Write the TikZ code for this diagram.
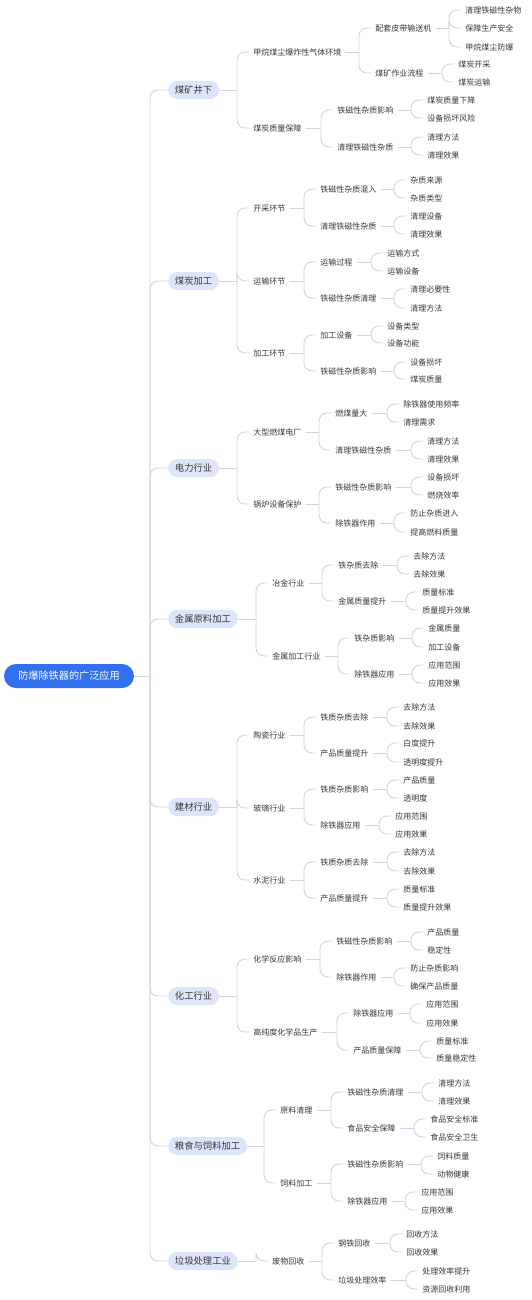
\documentclass[tikz,border=0pt]{standalone}
\usepackage{fontspec}
\usepackage{xcolor}
\usepackage{tikz}
\usetikzlibrary{calc}
\newfontfamily\cjk{Noto Sans CJK SC}
\definecolor{rootblue}{HTML}{3170EE}
\definecolor{sectorblue}{HTML}{DDE5FA}
\definecolor{linkgray}{HTML}{CFD6E3}
\definecolor{textgray}{HTML}{383838}
\tikzset{rootbox/.style={fill=#1,text=white,rounded corners=9pt,minimum width=97.5pt,minimum height=18pt,inner sep=0pt,font=\cjk\fontsize{7.6}{9}\selectfont},rootbox/.default=rootblue}
\tikzset{sector/.style={fill=#1,text=textgray,anchor=west,rounded corners=6.5pt,minimum height=13.5pt,inner xsep=5pt,inner ysep=0pt,font=\cjk\fontsize{7}{8}\selectfont},sector/.default=sectorblue}
\tikzset{topic/.style={text=#1,anchor=west,xshift=-3pt,inner xsep=3pt,inner ysep=1pt,font=\cjk\fontsize{6}{7}\selectfont},topic/.default=textgray}
\tikzset{link/.style={draw=#1,line width=0.7pt},link/.default=linkgray}
% elbow from parent #2 to child #3, the bend sits #1 before the child
\newcommand{\branchlink}[3][9pt]{%
	\draw [link] let \p1=(#2.east), \p2=(#3.west) in (\p1) -- (\x2-#1,\y1);
	\draw [link,rounded corners=6pt] let \p1=(#2.east), \p2=(#3.west) in (\x2-#1,\y1) |- (\p2);}
\newcommand{\addsector}[3]{\node [sector] (#1) at (168,#2) {#3}; \branchlink[13.5pt]{root}{#1}}
\newcommand{\addtopic}[5]{\node [topic] (#1) at (#3,#4) {#5}; \branchlink{#2}{#1}}

\begin{document}
\begin{tikzpicture}[x=0.75pt,y=-0.75pt]

	\path [fill=white,use as bounding box] (0,0) rectangle (532,1300);

	% O tema central
	\node [rootbox] (root) at (69,676) {防爆除铁器的广泛应用};

	% 煤矿井下
	\addsector{mine}{90}{煤矿井下}
	\addtopic{mine1}{mine}{253}{52}{甲烷煤尘爆炸性气体环境}
	\addtopic{mine11}{mine1}{375}{28}{配套皮带输送机}
	\addtopic{mine111}{mine11}{465}{10}{清理铁磁性杂物}
	\addtopic{mine112}{mine11}{465}{28}{保障生产安全}
	\addtopic{mine113}{mine11}{465}{47}{甲烷煤尘防爆}
	\addtopic{mine12}{mine1}{375}{73}{煤矿作业流程}
	\addtopic{mine121}{mine12}{458}{64}{煤炭开采}
	\addtopic{mine122}{mine12}{458}{82}{煤炭运输}
	\addtopic{mine2}{mine}{253}{128}{煤炭质量保障}
	\addtopic{mine21}{mine2}{337}{110}{铁磁性杂质影响}
	\addtopic{mine211}{mine21}{427}{100}{煤炭质量下降}
	\addtopic{mine212}{mine21}{427}{118}{设备损坏风险}
	\addtopic{mine22}{mine2}{337}{147}{清理铁磁性杂质}
	\addtopic{mine221}{mine22}{427}{137}{清理方法}
	\addtopic{mine222}{mine22}{427}{155}{清理效果}

	% 煤炭加工
	\addsector{coal}{281}{煤炭加工}
	\addtopic{coal1}{coal}{253}{208}{开采环节}
	\addtopic{coal11}{coal1}{320}{189}{铁磁性杂质混入}
	\addtopic{coal111}{coal11}{410}{180}{杂质来源}
	\addtopic{coal112}{coal11}{410}{198}{杂质类型}
	\addtopic{coal12}{coal1}{320}{226}{清理铁磁性杂质}
	\addtopic{coal121}{coal12}{410}{216}{清理设备}
	\addtopic{coal122}{coal12}{410}{234}{清理效果}
	\addtopic{coal2}{coal}{253}{281}{运输环节}
	\addtopic{coal21}{coal2}{320}{262}{运输过程}
	\addtopic{coal211}{coal21}{387}{253}{运输方式}
	\addtopic{coal212}{coal21}{387}{271}{运输设备}
	\addtopic{coal22}{coal2}{320}{298}{铁磁性杂质清理}
	\addtopic{coal221}{coal22}{410}{289}{清理必要性}
	\addtopic{coal222}{coal22}{410}{308}{清理方法}
	\addtopic{coal3}{coal}{253}{353}{加工环节}
	\addtopic{coal31}{coal3}{320}{335}{加工设备}
	\addtopic{coal311}{coal31}{387}{326}{设备类型}
	\addtopic{coal312}{coal31}{387}{343}{设备功能}
	\addtopic{coal32}{coal3}{320}{371}{铁磁性杂质影响}
	\addtopic{coal321}{coal32}{410}{362}{设备损坏}
	\addtopic{coal322}{coal32}{410}{379}{煤炭质量}

	% 电力行业
	\addsector{power}{468}{电力行业}
	\addtopic{power1}{power}{253}{432}{大型燃煤电厂}
	\addtopic{power11}{power1}{335}{413}{燃煤量大}
	\addtopic{power111}{power11}{403}{404}{除铁器使用频率}
	\addtopic{power112}{power11}{403}{422}{清理需求}
	\addtopic{power12}{power1}{335}{450}{清理铁磁性杂质}
	\addtopic{power121}{power12}{427}{441}{清理方法}
	\addtopic{power122}{power12}{427}{459}{清理效果}
	\addtopic{power2}{power}{253}{504}{锅炉设备保护}
	\addtopic{power21}{power2}{335}{487}{铁磁性杂质影响}
	\addtopic{power211}{power21}{427}{477}{设备损坏}
	\addtopic{power212}{power21}{427}{495}{燃烧效率}
	\addtopic{power22}{power2}{335}{523}{除铁器作用}
	\addtopic{power221}{power22}{410}{513}{防止杂质进入}
	\addtopic{power222}{power22}{410}{532}{提高燃料质量}

	% 金属原料加工
	\addsector{metal}{619}{金属原料加工}
	\addtopic{metal1}{metal}{272}{583}{冶金行业}
	\addtopic{metal11}{metal1}{338}{565}{铁杂质去除}
	\addtopic{metal111}{metal11}{413}{556}{去除方法}
	\addtopic{metal112}{metal11}{413}{574}{去除效果}
	\addtopic{metal12}{metal1}{338}{601}{金属质量提升}
	\addtopic{metal121}{metal12}{422}{592}{质量标准}
	\addtopic{metal122}{metal12}{422}{610}{质量提升效果}
	\addtopic{metal2}{metal}{272}{656}{金属加工行业}
	\addtopic{metal21}{metal2}{354}{638}{铁杂质影响}
	\addtopic{metal211}{metal21}{428}{628}{金属质量}
	\addtopic{metal212}{metal21}{428}{647}{加工设备}
	\addtopic{metal22}{metal2}{354}{674}{除铁器应用}
	\addtopic{metal221}{metal22}{428}{665}{应用范围}
	\addtopic{metal222}{metal22}{428}{683}{应用效果}

	% 建材行业
	\addsector{build}{807}{建材行业}
	\addtopic{build1}{build}{253}{735}{陶瓷行业}
	\addtopic{build11}{build1}{320}{717}{铁质杂质去除}
	\addtopic{build111}{build11}{403}{707}{去除方法}
	\addtopic{build112}{build11}{403}{726}{去除效果}
	\addtopic{build12}{build1}{320}{753}{产品质量提升}
	\addtopic{build121}{build12}{403}{743}{白度提升}
	\addtopic{build122}{build12}{403}{762}{透明度提升}
	\addtopic{build2}{build}{253}{808}{玻璃行业}
	\addtopic{build21}{build2}{320}{789}{铁质杂质影响}
	\addtopic{build211}{build21}{403}{780}{产品质量}
	\addtopic{build212}{build21}{403}{798}{透明度}
	\addtopic{build22}{build2}{320}{825}{除铁器应用}
	\addtopic{build221}{build22}{395}{816}{应用范围}
	\addtopic{build222}{build22}{395}{834}{应用效果}
	\addtopic{build3}{build}{253}{880}{水泥行业}
	\addtopic{build31}{build3}{320}{862}{铁质杂质去除}
	\addtopic{build311}{build31}{403}{852}{去除方法}
	\addtopic{build312}{build31}{403}{871}{去除效果}
	\addtopic{build32}{build3}{320}{898}{产品质量提升}
	\addtopic{build321}{build32}{403}{889}{质量标准}
	\addtopic{build322}{build32}{403}{907}{质量提升效果}

	% 化工行业
	\addsector{chem}{996}{化工行业}
	\addtopic{chem1}{chem}{253}{959}{化学反应影响}
	\addtopic{chem11}{chem1}{336}{941}{铁磁性杂质影响}
	\addtopic{chem111}{chem11}{427}{932}{产品质量}
	\addtopic{chem112}{chem11}{427}{950}{稳定性}
	\addtopic{chem12}{chem1}{336}{977}{除铁器作用}
	\addtopic{chem121}{chem12}{410}{968}{防止杂质影响}
	\addtopic{chem122}{chem12}{410}{986}{确保产品质量}
	\addtopic{chem2}{chem}{253}{1032}{高纯度化学品生产}
	\addtopic{chem21}{chem2}{353}{1013}{除铁器应用}
	\addtopic{chem211}{chem21}{426}{1004}{应用范围}
	\addtopic{chem212}{chem21}{426}{1023}{应用效果}
	\addtopic{chem22}{chem2}{353}{1050}{产品质量保障}
	\addtopic{chem221}{chem22}{436}{1041}{质量标准}
	\addtopic{chem222}{chem22}{436}{1058}{质量稳定性}

	% 粮食与饲料加工
	\addsector{food}{1146}{粮食与饲料加工}
	\addtopic{food1}{food}{280}{1110}{原料清理}
	\addtopic{food11}{food1}{347}{1092}{铁磁性杂质清理}
	\addtopic{food111}{food11}{438}{1083}{清理方法}
	\addtopic{food112}{food11}{438}{1101}{清理效果}
	\addtopic{food12}{food1}{347}{1128}{食品安全保障}
	\addtopic{food121}{food12}{430}{1119}{食品安全标准}
	\addtopic{food122}{food12}{430}{1137}{食品安全卫生}
	\addtopic{food2}{food}{280}{1183}{饲料加工}
	\addtopic{food21}{food2}{347}{1164}{铁磁性杂质影响}
	\addtopic{food211}{food21}{437}{1156}{饲料质量}
	\addtopic{food212}{food21}{437}{1174}{动物健康}
	\addtopic{food22}{food2}{347}{1201}{除铁器应用}
	\addtopic{food221}{food22}{421}{1192}{应用范围}
	\addtopic{food222}{food22}{421}{1210}{应用效果}

	% 垃圾处理工业
	\addsector{waste}{1261}{垃圾处理工业}
	\addtopic{waste1}{waste}{272}{1261}{废物回收}
	\addtopic{waste11}{waste1}{338}{1243}{钢铁回收}
	\addtopic{waste111}{waste11}{406}{1234}{回收方法}
	\addtopic{waste112}{waste11}{406}{1252}{回收效果}
	\addtopic{waste12}{waste1}{338}{1280}{垃圾处理效率}
	\addtopic{waste121}{waste12}{422}{1271}{处理效率提升}
	\addtopic{waste122}{waste12}{422}{1289}{资源回收利用}

\end{tikzpicture}
\end{document}
